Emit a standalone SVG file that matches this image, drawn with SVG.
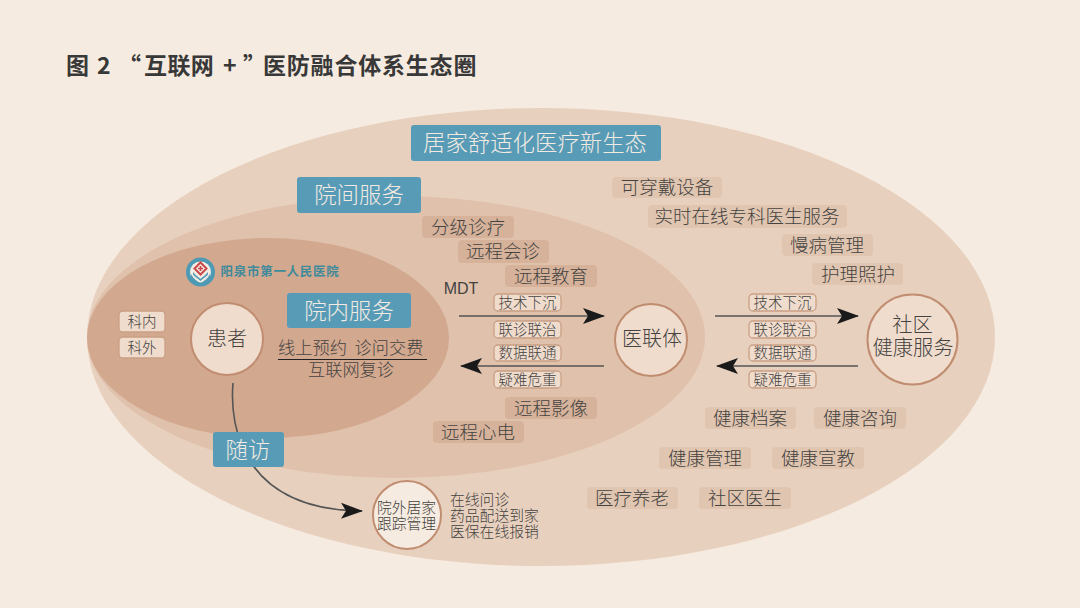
<svg xmlns="http://www.w3.org/2000/svg" width="1080" height="608" viewBox="0 0 1080 608">
<style>
text{font-family:"Noto Sans CJK SC","Noto Sans",sans-serif;fill:#444341;text-anchor:middle;font-weight:300}
.title{font-size:23px;font-weight:700;fill:#383838;text-anchor:start}
.blue{fill:#589bb6}
.bt{fill:#f3ebe3;font-size:22.400px}
.tag{fill:#e0c5b0}
.tag1{fill:#d7b29b}
.t17{font-size:18.500px}
.t18{font-size:17.200px}
.pill{fill:#f0dccd;stroke:#c99f85;stroke-width:1.300}
.pt{font-size:14.500px}
.node{fill:#f0dccd;stroke:#c08d70;stroke-width:2}
.ln{fill:none;stroke:#555;stroke-width:1.600}
.li{text-anchor:start;font-size:14.800px}
</style>
<defs>
<marker id="ah" markerWidth="24" markerHeight="18" refX="21" refY="8" orient="auto" markerUnits="userSpaceOnUse" viewBox="0 0 24 16">
<path d="M0,0L22,8L0,16L5,8Z" fill="#1a1a1a"/>
</marker>
</defs>
<rect width="1080" height="608" fill="#f6ebe0"/>
<text class="title" y="74"><tspan x="66">图</tspan><tspan x="97">2</tspan><tspan x="118">“</tspan><tspan x="144" style="letter-spacing:.4px">互联网</tspan><tspan x="223">+</tspan><tspan x="243">”</tspan><tspan x="263" style="letter-spacing:.8px">医防融合体系生态圈</tspan></text>
<g id="ecosystem"><ellipse cx="541" cy="337" rx="454" ry="229" fill="#e8d0be"/></g>
<g id="between"><ellipse cx="396" cy="337" rx="309" ry="141" fill="#dfc1ac"/></g>
<g id="inhospital"><ellipse cx="268" cy="338" rx="181" ry="100" fill="#d2a88f"/></g>
<g id="connectors">
<path class="ln" d="M459,316H604" marker-end="url(#ah)"/>
<path class="ln" d="M604,366H461" marker-end="url(#ah)"/>
<path class="ln" d="M715,316H858" marker-end="url(#ah)"/>
<path class="ln" d="M858,366H717" marker-end="url(#ah)"/>
<path class="ln" d="M233,383C229,430 245,510 362,511" marker-end="url(#ah)"/>
</g>
<g id="title-ecosystem"><rect class="blue" x="411" y="125" width="250" height="36" rx="3"/><text class="bt" x="535" y="151">居家舒适化医疗新生态</text></g>
<g id="title-between"><rect class="blue" x="297" y="177" width="124" height="36" rx="3"/><text class="bt" x="359" y="203">院间服务</text></g>
<g id="title-inhospital"><rect class="blue" x="287" y="293" width="124" height="35" rx="3"/><text class="bt" x="349" y="319">院内服务</text></g>
<g id="title-followup"><rect class="blue" x="213" y="432" width="71" height="35" rx="3"/><text class="bt" x="248" y="458">随访</text></g>
<g id="logo">
<circle cx="200.500" cy="272" r="14.500" fill="#4e9ab5"/>
<circle cx="200.500" cy="272" r="10.500" fill="#f3ece4"/>
<path d="M191,274C194,280 198,281 200.500,284C203,281 207,280 210,274L210,277.500C207,283 203,284 200.500,286C198,284 194,283 191,277.500Z" fill="#4e9ab5"/>
<path d="M193,272C196,276 199,277 200.500,279C202,277 205,276 208,272L208,274.500C205,278 202,279 200.500,281C199,279 196,278 193,274.500Z" fill="#4e9ab5"/>
<path d="M200.500,262.500L206.500,268.500L200.500,274.500L194.500,268.500Z" fill="none" stroke="#c9494a" stroke-width="2"/>
<path d="M199.700,266H201.300V267.700H203V269.300H201.300V271H199.700V269.300H198V267.700H199.700Z" fill="#c9494a"/>
<text x="280" y="276" style="font-family:'Noto Sans CJK SC',serif;font-size:12.500px;font-weight:700;fill:#3f8a9b;letter-spacing:.7px">阳泉市第一人民医院</text>
</g>
<g id="patient">
<rect class="pill" x="119" y="311" width="46" height="21" rx="4"/><text class="pt" x="142" y="326.500">科内</text>
<rect class="pill" x="119" y="337" width="46" height="21" rx="4"/><text class="pt" x="142" y="352.500">科外</text>
<circle class="node" cx="227" cy="339" r="36"/><text x="227" y="345.500" style="font-size:20px">患者</text>
<text class="t18" x="312.500" y="354">线上预约</text><text class="t18" x="389" y="354">诊问交费</text>
<path d="M278,359.500H427" stroke="#222" stroke-width="1"/>
<text class="t18" x="351" y="376">互联网复诊</text>
</g>
<g id="between-tags">
<rect class="tag1" x="422" y="216" width="92" height="22" rx="4"/><text class="t17" x="468" y="233.500">分级诊疗</text>
<rect class="tag1" x="458" y="240" width="91" height="23" rx="4"/><text class="t17" x="503" y="258">远程会诊</text>
<rect class="tag1" x="505" y="265" width="92" height="22" rx="4"/><text class="t17" x="551" y="282.500">远程教育</text>
<rect class="tag1" x="505" y="397" width="92" height="22" rx="4"/><text class="t17" x="551" y="414.500">远程影像</text>
<rect class="tag1" x="433" y="421" width="91" height="22" rx="4"/><text class="t17" x="478" y="438.500">远程心电</text>
<text x="461" y="294" style="font-family:'Liberation Sans',sans-serif;font-size:16px">MDT</text>
</g>
<g id="links-left">
<rect class="pill" x="494" y="294" width="67" height="17" rx="4"/><text class="pt" x="527.500" y="307.500">技术下沉</text>
<rect class="pill" x="494" y="321" width="67" height="17" rx="4"/><text class="pt" x="527.500" y="334.500">联诊联治</text>
<rect class="pill" x="494" y="345" width="67" height="16" rx="4"/><text class="pt" x="527.500" y="358">数据联通</text>
<rect class="pill" x="494" y="371" width="67" height="17" rx="4"/><text class="pt" x="527.500" y="384.500">疑难危重</text>
</g>
<g id="links-right">
<rect class="pill" x="749" y="294" width="67" height="17" rx="4"/><text class="pt" x="782.500" y="307.500">技术下沉</text>
<rect class="pill" x="749" y="321" width="67" height="17" rx="4"/><text class="pt" x="782.500" y="334.500">联诊联治</text>
<rect class="pill" x="749" y="345" width="67" height="16" rx="4"/><text class="pt" x="782.500" y="358">数据联通</text>
<rect class="pill" x="749" y="371" width="67" height="17" rx="4"/><text class="pt" x="782.500" y="384.500">疑难危重</text>
</g>
<g id="yilianti"><circle class="node" cx="651" cy="340" r="36"/><text x="652" y="346" style="font-size:20px">医联体</text></g>
<g id="community"><circle class="node" cx="912.500" cy="339.500" r="45"/><text x="912.500" y="332" style="font-size:20.300px">社区</text><text x="913" y="355" style="font-size:20.300px">健康服务</text></g>
<g id="home"><circle cx="407" cy="515" r="34" fill="#f6ebe0" stroke="#c08d70" stroke-width="2"/><text x="406.500" y="513" style="font-size:14.800px">院外居家</text><text x="406.500" y="529" style="font-size:14.800px">跟踪管理</text>
<text class="li" x="450" y="505">在线问诊</text>
<text class="li" x="450" y="521">药品配送到家</text>
<text class="li" x="450" y="537">医保在线报销</text>
</g>
<g id="eco-tags">
<rect class="tag" x="612" y="177" width="110" height="21" rx="4"/><text class="t17" x="667" y="194">可穿戴设备</text>
<rect class="tag" x="648" y="205" width="199" height="23" rx="4"/><text class="t17" x="747" y="223">实时在线专科医生服务</text>
<rect class="tag" x="782" y="234" width="91" height="22" rx="4"/><text class="t17" x="827" y="251.500">慢病管理</text>
<rect class="tag" x="812" y="263" width="91" height="22" rx="4"/><text class="t17" x="858" y="280.500">护理照护</text>
<rect class="tag" x="705" y="407" width="91" height="22" rx="4"/><text class="t17" x="750" y="424.500">健康档案</text>
<rect class="tag" x="814" y="407" width="92" height="22" rx="4"/><text class="t17" x="860" y="424.500">健康咨询</text>
<rect class="tag" x="659" y="447" width="92" height="22" rx="4"/><text class="t17" x="705" y="464.500">健康管理</text>
<rect class="tag" x="772" y="447" width="92" height="22" rx="4"/><text class="t17" x="818" y="464.500">健康宣教</text>
<rect class="tag" x="587" y="487" width="91" height="22" rx="4"/><text class="t17" x="632" y="504.500">医疗养老</text>
<rect class="tag" x="699" y="487" width="92" height="22" rx="4"/><text class="t17" x="745" y="504.500">社区医生</text>
</g>
</svg>
